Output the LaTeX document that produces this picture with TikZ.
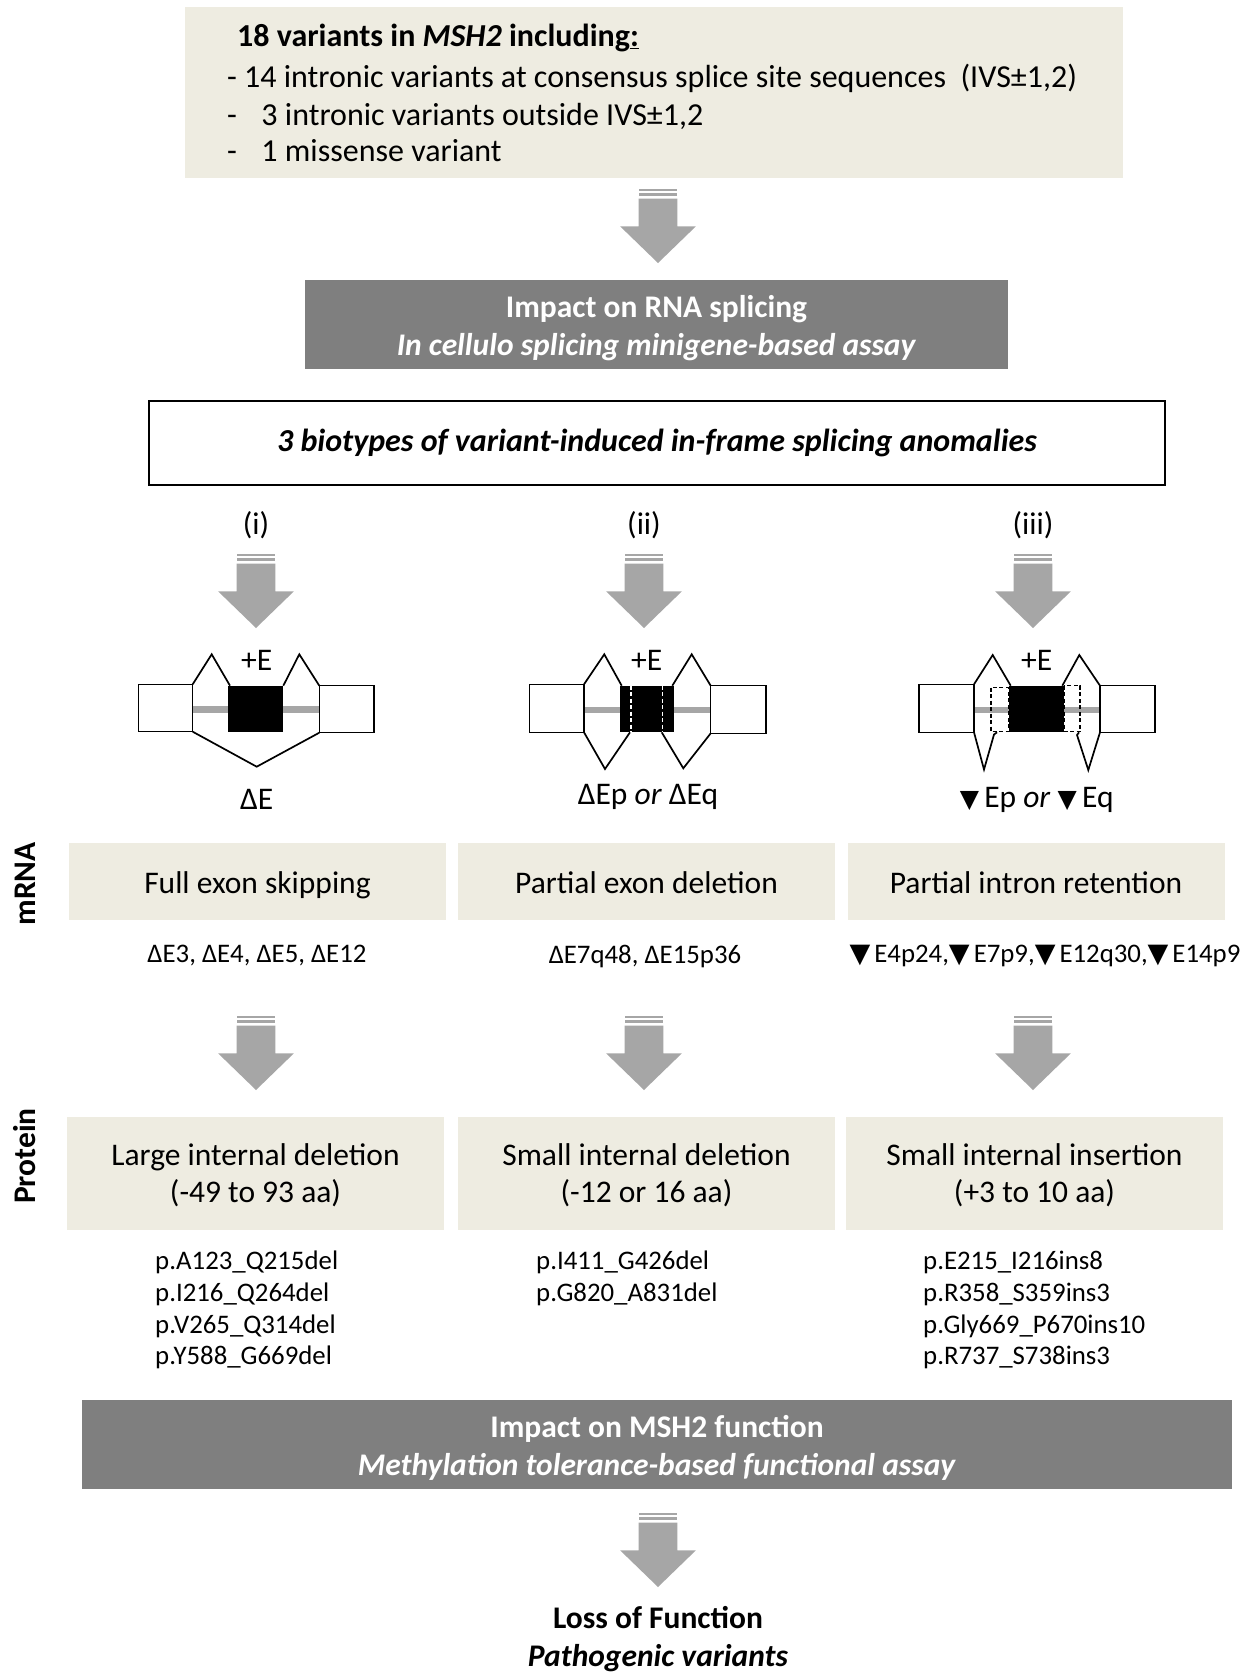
\documentclass[tikz,border=0pt]{standalone}
\usepackage{fontspec}
\setmainfont{Carlito}
\newfontfamily\dejavu{DejaVu Sans}
\definecolor{beige}{HTML}{EEECE1}
\definecolor{dgray}{HTML}{7F7F7F}
\definecolor{agray}{HTML}{A6A6A6}
\newcommand\tri{{\dejavu\fontsize{25bp}{25bp}\selectfont ▼}}
\newcommand\trib{{\dejavu\fontsize{27bp}{27bp}\selectfont ▼}\hspace{4bp}}
\newcommand\fsA{\fontsize{31.5bp}{38bp}\selectfont}
\newcommand\fsP{\fontsize{31.5bp}{37bp}\selectfont}
\newcommand\fsB{\fontsize{26.8bp}{31.7bp}\selectfont}
\tikzset{
  beigebox/.style={fill=beige, draw=none, inner sep=0},
  boxtext/.style={inner sep=0, anchor=base, font=\fsA},
  protbox/.style={fill=beige, draw=none, inner sep=0, minimum width=377bp, minimum height=113bp},
  prottext/.style={inner sep=0, align=center, font=\fsP},
  graybox/.style={fill=dgray, inner sep=0},
  graytext/.style={text=white, inner sep=0, align=center, font=\fsA\bfseries},
  biglabel/.style={inner sep=0, font=\fsA},
  small/.style={inner sep=0, font=\fsB},
  toptext/.style={inner sep=0, anchor=base west, font=\fontsize{32bp}{38bp}\selectfont},
  exon/.style={draw=black, line width=1.3bp, fill=white},
  splice/.style={draw=black, line width=1.7bp, line join=miter},
  intron/.style={draw=agray, line width=6.5bp},
  dashw/.style={draw=white, line width=1.6bp, dash pattern=on 4bp off 2.5bp},
  dashk/.style={draw=black, line width=1.5bp, dash pattern=on 4bp off 2.5bp},
  pics/darrow/.style={code={
    \fill[agray] (-19.3,0) rectangle (19.3,2);
    \fill[agray] (-19.3,4) rectangle (19.3,6.7);
    \fill[agray] (-19.3,9.7) -- (19.3,9.7) -- (19.3,37.4) -- (37.8,37.4) -- (0,74) -- (-37.8,37.4) -- (-19.3,37.4) -- cycle;
  }}
}
\begin{document}
\begin{tikzpicture}[x=1bp,y=-1bp]
\useasboundingbox[fill=white] (0,0) rectangle (1255,1672);

% top box
\node[fill=beige, inner sep=0, minimum width=938bp, minimum height=171bp, anchor=north west] (topbox) at (185,7) {};
\node[toptext] (t1) at (237,47) {\textbf{18 variants in \textit{MSH2} including\underline{:}}};
\node[toptext] (t2) at (227,87) {- 14 intronic variants at consensus splice site sequences\ \ (IVS±1,2)};
\node[toptext] (t3) at (227,125) {-\hspace{24.5bp}3 intronic variants outside IVS±1,2};
\node[toptext] (t4) at (227,161) {-\hspace{24.5bp}1 missense variant};

\pic at (658,189) {darrow};

% RNA splicing box
\node[graybox, minimum width=703bp, minimum height=89bp] (rna) at (656.5,324.5) {};
\node[graytext] (rnaT) at (656.5,327.7) {Impact on RNA splicing\\\textit{In cellulo splicing minigene-based assay}};

% biotypes box
\node[draw=black, line width=2.2bp, fill=white, inner sep=0, minimum width=1016bp, minimum height=84bp, font=\fontsize{32bp}{38bp}\selectfont\bfseries\itshape] (bio) at (657,443) {3 biotypes of variant-induced in-frame splicing anomalies};

\node[biglabel] (li) at (256,525) {(i)};
\node[biglabel] (lii) at (644,525) {(ii)};
\node[biglabel] (liii) at (1033,525) {(iii)};

\pic at (256,554) {darrow};
\pic at (644,554) {darrow};
\pic at (1033,554) {darrow};

% diagram (i)
\draw[intron] (192.7,709.3) -- (319.3,709.3);
\fill[black] (228.3,685.7) rectangle (283.3,732.3);
\draw[exon] (138.3,684.3) rectangle (192.7,731.7);
\draw[exon] (319.3,685.7) rectangle (374,732.7);
\draw[splice] (192.7,684.3) -- (211.7,654.3) -- (230,685.7);
\draw[splice] (283.3,685.7) -- (299.3,654.3) -- (319.3,685.7);
\draw[splice] (192.7,731.7) -- (256.7,766.7) -- (319.3,732.7);
\node[biglabel] (pe1) at (256.7,660) {+E};
\node[biglabel] (de1) at (256.7,799) {ΔE};

% diagram (ii)
\draw[intron] (584,710) -- (710.7,710);
\fill[black] (620,685.7) rectangle (674,732.3);
\draw[dashw] (630.7,685.7) -- (630.7,732.3);
\draw[dashw] (662.3,685.7) -- (662.3,732.3);
\draw[exon] (529.3,684.3) rectangle (584,732.3);
\draw[exon] (710.7,685.7) rectangle (766,733.3);
\draw[splice] (584,684.3) -- (604.3,654.3) -- (621.7,685.7);
\draw[splice] (672.3,685.7) -- (691.7,654.3) -- (710.7,685.7);
\draw[splice] (584,732.3) -- (605,769) -- (630,732.3);
\draw[splice] (661.7,732.3) -- (683.3,768.3) -- (710.7,733.3);
\node[biglabel] (pe2) at (646.7,660) {+E};
\node[biglabel] (de2) at (648,797) {ΔEp \textit{or} ΔEq};

% diagram (iii)
\draw[intron] (974,710) -- (1100,710);
\fill[black] (1009.3,685.7) rectangle (1064,732.3);
\draw[dashk] (991,687.7) rectangle (1008.3,731.7);
\draw[dashk] (1064,685.7) rectangle (1080,731.7);
\draw[exon] (919,684.3) rectangle (974,732.3);
\draw[exon] (1100,685.7) rectangle (1155,732.3);
\draw[splice] (974,684.3) -- (992.7,655) -- (1010.7,685.7);
\draw[splice] (1062.3,685.7) -- (1079.3,655) -- (1100,685.7);
\draw[splice] (974,732.3) -- (984,769.5) -- (994,734.5) -- (997,732.3);
\draw[splice] (1079,732.3) -- (1077,735) -- (1088.3,770) -- (1100,732.3);
\node[biglabel] (pe3) at (1036.7,660) {+E};
\node[biglabel] (de3) at (1036.7,800) {\tri\,Ep \textit{or} \tri\,Eq};

% side labels
\node[rotate=90, inner sep=0, font=\fsA\bfseries] (mrna) at (25,884) {mRNA};
\node[rotate=90, inner sep=0, font=\fsA\bfseries] (prot) at (25,1156) {Protein};

% mRNA boxes
\node[beigebox, minimum width=377bp, minimum height=77bp] (m1) at (257.5,881.5) {};
\node[beigebox, minimum width=377bp, minimum height=77bp] (m2) at (646.5,881.5) {};
\node[beigebox, minimum width=377bp, minimum height=77bp] (m3) at (1036,881.5) {};
\node[boxtext] (m1T) at (257.5,893) {Full exon skipping};
\node[boxtext] (m2T) at (646.5,893) {Partial exon deletion};
\node[boxtext] (m3T) at (1036,893) {Partial intron retention};

\node[small] (r1) at (257,956) {ΔE3, ΔE4, ΔE5, ΔE12};
\node[small] (r2) at (645,956) {ΔE7q48, ΔE15p36};
\node[small] (r3) at (1045,956) {\trib E4p24,\trib E7p9,\trib E12q30,\trib E14p9};

\pic at (256,1016) {darrow};
\pic at (644,1016) {darrow};
\pic at (1033,1016) {darrow};

% protein boxes
\node[protbox] (p1) at (255.5,1173) {};
\node[protbox] (p2) at (646.5,1173) {};
\node[protbox] (p3) at (1034.5,1173) {};
\node[prottext] (p1T) at (255.5,1175) {Large internal deletion\\(-49 to 93 aa)};
\node[prottext] (p2T) at (646.5,1175) {Small internal deletion\\(-12 or 16 aa)};
\node[prottext] (p3T) at (1034.5,1175) {Small internal insertion\\(+3 to 10 aa)};

\node[small, anchor=north west, align=left] (v1) at (155,1251) {p.A123\_Q215del\\p.I216\_Q264del\\p.V265\_Q314del\\p.Y588\_G669del};
\node[small, anchor=north west, align=left] (v2) at (536,1251) {p.I411\_G426del\\p.G820\_A831del};
\node[small, anchor=north west, align=left] (v3) at (923,1251) {p.E215\_I216ins8\\p.R358\_S359ins3\\p.Gly669\_P670ins10\\p.R737\_S738ins3};

% function box
\node[graybox, minimum width=1150bp, minimum height=89bp] (fn) at (657,1444.5) {};
\node[graytext] (fnT) at (657,1447.5) {Impact on MSH2 function\\\textit{Methylation tolerance-based functional assay}};

\pic at (658,1513) {darrow};

\node[inner sep=0, align=center, font=\fsA\bfseries] (lof) at (658,1639) {Loss of Function\\\textit{Pathogenic variants}};
\end{tikzpicture}
\end{document}
